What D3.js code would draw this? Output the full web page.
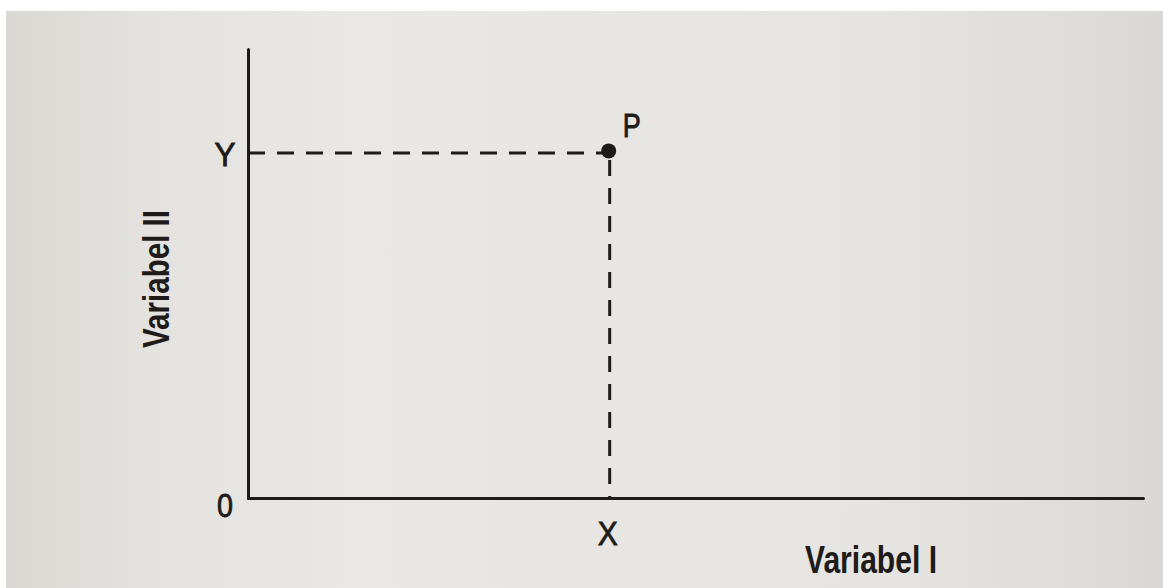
<!DOCTYPE html>
<html>
<head>
<meta charset="utf-8">
<script src="https://cdn.jsdelivr.net/npm/d3@7"></script>
<style>
html,body{margin:0;padding:0;background:#fff;}
svg{display:block;}
</style>
</head>
<body>
<svg id="chart" width="1163" height="588"></svg>
<script>
// ---- data ----
const xDomain = [0, 10];
const yDomain = [0, 10];
const pointP = [{name: "P", x: 4.03, y: 7.73}];
const originLabel = ["0"];
const xTickLabel = ["X"];
const yTickLabel = ["Y"];
const xTitle = ["Variabel I"];
const yTitle = ["Variabel II"];

// ---- layout ----
const W = 1163, H = 588;
const svg = d3.select("#chart");
const defs = svg.append("defs");
const grad = defs.append("linearGradient").attr("id","paper").attr("x1","0").attr("x2","1").attr("y1","0").attr("y2","0");
[[0,"#dad8d3"],[0.12,"#e4e2de"],[0.3,"#e9e8e5"],[0.5,"#e7e6e3"],[0.75,"#e5e4e0"],[0.9,"#e0dedb"],[1,"#dad8d4"]]
  .forEach(([o,c]) => grad.append("stop").attr("offset",o).attr("stop-color",c));

svg.append("rect").attr("x",0).attr("y",0).attr("width",W).attr("height",H).attr("fill","#ffffff");
svg.append("rect").attr("x",6).attr("y",11).attr("width",W-6).attr("height",H-11).attr("fill","url(#paper)");

const x = d3.scaleLinear().domain(xDomain).range([248, 1143]);
const y = d3.scaleLinear().domain(yDomain).range([498, 49]);
const ink = "#1f1b19";

// axes (drawn with d3 axes, no ticks)
const xAxis = d3.axisBottom(x).tickValues([]).tickSizeOuter(0);
const yAxis = d3.axisLeft(y).tickValues([]).tickSizeOuter(0);
const gx = svg.append("g").attr("transform", `translate(0,${y(0)})`).call(xAxis);
const gy = svg.append("g").attr("transform", `translate(${x(0)},0)`).call(yAxis);
[gx, gy].forEach(g => g.select(".domain").attr("stroke", ink).attr("stroke-width", 3).attr("stroke-linecap","round"));

// dashed guide lines
const p = pointP[0];
svg.append("line")
  .attr("x1", x(0)).attr("x2", x(p.x) - 6)
  .attr("y1", y(p.y) + 2).attr("y2", y(p.y) + 2)
  .attr("stroke", ink).attr("stroke-width", 3).attr("stroke-dasharray", "17,12");
svg.append("line")
  .attr("x1", x(p.x) + 1).attr("x2", x(p.x) + 1)
  .attr("y1", y(p.y) + 9).attr("y2", y(0))
  .attr("stroke", ink).attr("stroke-width", 3).attr("stroke-dasharray", "16,12");

// point
svg.selectAll("circle.pt").data(pointP).enter().append("circle")
  .attr("class","pt")
  .attr("cx", d => x(d.x)).attr("cy", d => y(d.y))
  .attr("r", 7.5).attr("fill", ink);

const font = "'Liberation Sans', Arial, sans-serif";
function reg(sel){ return sel.attr("font-family", font).attr("font-size", 34).attr("fill", ink)
  .attr("stroke", ink).attr("stroke-width", 0.9).attr("lengthAdjust","spacingAndGlyphs"); }
// point label
reg(svg.selectAll("text.plab").data(pointP).enter().append("text")
  .attr("class","plab")
  .attr("x", d => x(d.x) + 14).attr("y", d => y(d.y) - 14))
  .attr("textLength", 18)
  .text(d => d.name);

// Y tick label
reg(svg.append("text").attr("x", 225).attr("y", y(p.y) + 15).attr("text-anchor","middle"))
  .attr("textLength", 21).text(yTickLabel[0]);
// origin label
reg(svg.append("text").attr("x", 225).attr("y", y(0) + 19).attr("text-anchor","middle"))
  .attr("textLength", 16).text(originLabel[0]);
// X tick label
reg(svg.append("text").attr("x", x(p.x) - 1).attr("y", y(0) + 47).attr("text-anchor","middle"))
  .attr("textLength", 20).text(xTickLabel[0]);

// axis titles
svg.append("text").attr("x", 805).attr("y", 573)
  .attr("font-family", font).attr("font-weight","bold").attr("font-size", 38).attr("fill", ink)
  .attr("textLength", 132).attr("lengthAdjust","spacingAndGlyphs")
  .text(xTitle[0]);
svg.append("text")
  .attr("transform", "translate(169,348) rotate(-90)")
  .attr("font-family", font).attr("font-weight","bold").attr("font-size", 37).attr("fill", ink)
  .attr("textLength", 138).attr("lengthAdjust","spacingAndGlyphs")
  .text(yTitle[0]);
</script>
</body>
</html>
